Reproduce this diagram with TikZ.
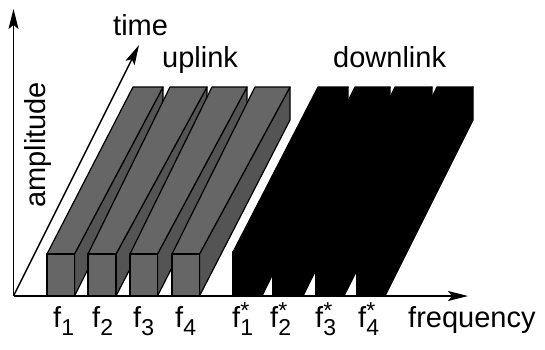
\documentclass[tikz,border=0pt]{standalone}
\usepackage{fontspec}
\setmainfont{Liberation Sans}
\usetikzlibrary{arrows.meta}
\newcommand{\lblsize}{\fontsize{29}{30}\selectfont}
\newcommand{\subsize}{\fontsize{23}{23}\selectfont}
\newcommand{\fsub}[1]{f\raisebox{-8pt}{\subsize #1}}
\newcommand{\fstr}[1]{f\rlap{\raisebox{9pt}{\subsize *}}\raisebox{-8pt}{\subsize #1}}
% #1 front left, #2 front right, #3 back left, #4 back right, #5 front top y, #6 style prefix
\newcommand{\slab}[6]{%
  \path[#6side] (#2,296) -- (#2,#5) -- (#4,87) -- (#4,120) -- cycle;
  \path[#6top] (#1,#5) -- (#2,#5) -- (#4,87) -- (#3,87) -- cycle;
  \path[#6front] (#1,296) rectangle (#2,#5);
}
\tikzset{
  face/.style={draw=black, line width=1.2pt, line join=round},
  upfront/.style={face, fill=black!60},
  uptop/.style={face, fill=black!60},
  upside/.style={face, fill=black!67},
  dnfront/.style={face, fill=black},
  dntop/.style={face, fill=black},
  dnside/.style={face, fill=black},
  lbl/.style={inner sep=0pt, anchor=base west, font=\lblsize},
  axis/.style={line width=1.8pt, -{Stealth[length=20pt, width=10pt, inset=4pt]}},
  taxis/.style={line width=1.5pt, -{Stealth[length=20pt, width=10pt, inset=4pt]}}
}
\begin{document}
\begin{tikzpicture}[x=1pt, y=-1pt]
\useasboundingbox (0,0) rectangle (545,349);
% uplink slabs
\slab{47}{74.5}{133}{163}{254}{up}
\slab{88}{116}{170}{207}{254}{up}
\slab{130}{157.5}{212}{247}{254}{up}
\slab{172}{199.5}{255}{290}{254}{up}
% downlink slabs
\slab{233}{262}{318}{348}{252}{dn}
\slab{273}{303}{355}{390}{252}{dn}
\slab{316}{344}{395}{432}{252}{dn}
\slab{357}{385}{437}{473}{252}{dn}
% axes
\coordinate (O) at (13.5,296);
\coordinate (ytip) at (13.5,9);
\coordinate (xtip) at (468,296);
\coordinate (ttip) at (139,45);
\draw[axis] (O) -- (ytip);
\draw[axis] (O) -- (xtip);
\draw[taxis] (O) -- (ttip);
% labels
\node[lbl] (time) at (113,35) {time};
\node[lbl] (up) at (162,67) {uplink};
\node[lbl] (down) at (333,67) {downlink};
\node[lbl, rotate=90] (amp) at (45,208) {amplitude};
\node[lbl] (freq) at (408,327) {frequency};
\node[lbl] (f1) at (53,327) {\fsub{1}};
\node[lbl] (f2) at (92,327) {\fsub{2}};
\node[lbl] (f3) at (133,327) {\fsub{3}};
\node[lbl] (f4) at (175,327) {\fsub{4}};
\node[lbl] (g1) at (232,327) {\fstr{1}};
\node[lbl] (g2) at (270,327) {\fstr{2}};
\node[lbl] (g3) at (315,327) {\fstr{3}};
\node[lbl] (g4) at (358,327) {\fstr{4}};
\end{tikzpicture}
\end{document}
